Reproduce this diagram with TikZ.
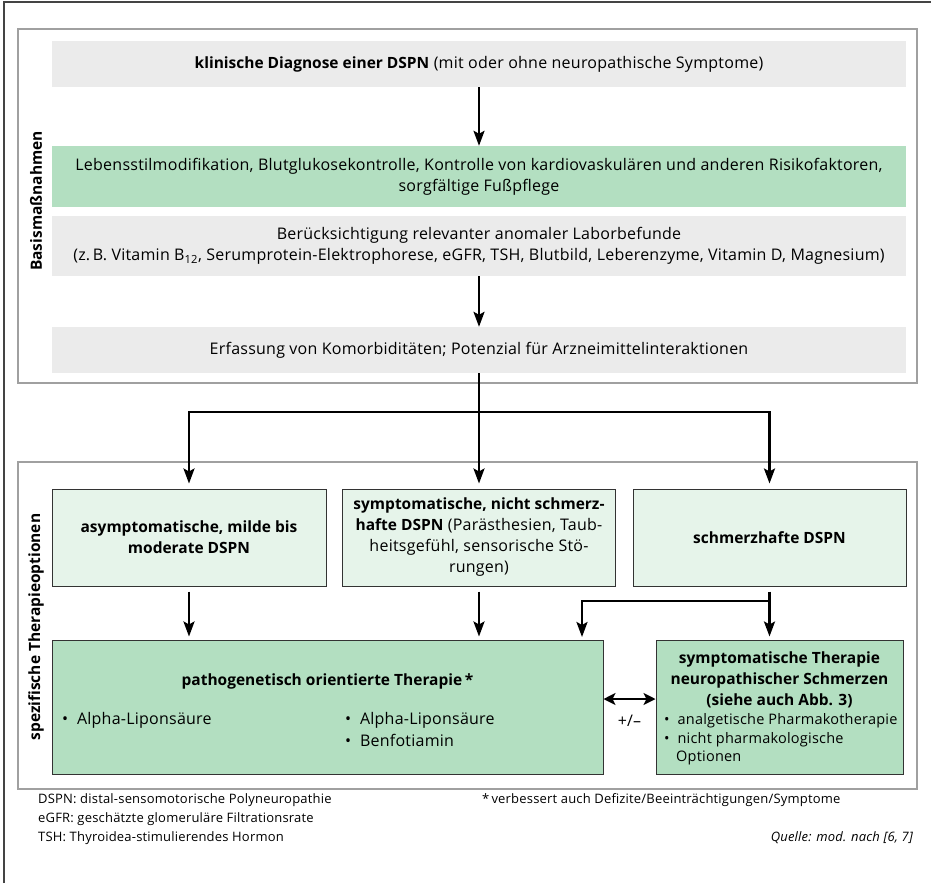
\documentclass[tikz,border=0pt]{standalone}
\usepackage{fontspec}
\setmainfont{Open Sans}[LetterSpace=1.5, BoldFeatures={LetterSpace=0}]
\usetikzlibrary{arrows.meta}
\definecolor{boxgray}{HTML}{EBEBEB}
\definecolor{boxgreen}{HTML}{B3DFC1}
\definecolor{boxlight}{HTML}{E6F4EA}
\definecolor{secgray}{HTML}{A0A0A0}
\definecolor{edgecol}{HTML}{333333}
\definecolor{framecol}{HTML}{444444}
\newcommand{\boldtxt}[1]{{\fontsize{15.5}{21}\selectfont\bfseries #1}}
\begin{document}
\begin{tikzpicture}[x=1pt,y=-1pt,
  mainfont/.style={font=\fontsize{16}{21}\selectfont},
  bar/.style={fill=boxgray, draw=none, minimum width=854pt, inner sep=0pt, align=center, mainfont},
  greenbar/.style={bar, fill=boxgreen},
  sec/.style={draw=secgray, line width=1.3pt, fill=none, inner sep=0pt},
  cbox/.style={draw=edgecol, line width=1pt, fill=boxlight, inner sep=0pt, minimum height=97pt, align=center, mainfont},
  gbox/.style={draw=edgecol, line width=1pt, fill=boxgreen, inner sep=0pt, minimum height=134pt},
  txt/.style={inner sep=0pt, mainfont},
  rtxt/.style={inner sep=0pt, font=\fontsize{14.5}{19}\selectfont},
  foot/.style={inner sep=0pt, font=\fontsize{13}{16}\selectfont},
  side/.style={inner sep=0pt, rotate=90, font=\fontsize{15.5}{18}\selectfont\bfseries},
  arr/.style={-{Stealth[length=15pt,width=11pt,inset=3pt]}, line width=2.4pt},
  plain/.style={line width=2.4pt}
]
\useasboundingbox (0,0) rectangle (931,883);
% outer frame
\draw[framecol, line width=1.5pt] (4,883) -- (4,2) -- (931,2);

% sections
\node[sec, minimum width=899pt, minimum height=354pt] (secA) at (467.5,206) {};
\node[sec, minimum width=899pt, minimum height=327pt] (secB) at (467.5,625.5) {};
\node[side] (labA) at (36,201) {Basismaßnahmen};
\node[side] (labB) at (36,627) {spezifische Therapieoptionen};

% upper bars
\node[bar, minimum height=46pt] (diag) at (479,64) {\boldtxt{klinische Diagnose einer DSPN} (mit oder ohne neuropathische Symptome)};
\node[greenbar, minimum height=61pt] (life) at (479,176.5) {Lebensstilmodifikation, Blutglukosekontrolle, Kontrolle von kardiovaskulären und anderen Risikofaktoren,\\ sorgfältige Fußpflege};
\node[bar, minimum height=60pt] (lab) at (479,246) {Berücksichtigung relevanter anomaler Laborbefunde\\ (z.\,B. Vitamin B\textsubscript{12}, Serumprotein-Elektrophorese, eGFR, TSH, Blutbild, Leberenzyme, Vitamin D, Magnesium)};
\node[bar, minimum height=46pt] (komorb) at (479,350) {Erfassung von Komorbiditäten; Potenzial für Arzneimittelinteraktionen};

\draw[arr] (diag.south) -- (life.north);
\draw[arr] (lab.south) -- (komorb.north);

% three boxes
\node[cbox, minimum width=274pt] (box1) at (189,537.5) {\boldtxt{asymptomatische, milde bis}\\ \boldtxt{moderate DSPN}};
\node[cbox, minimum width=273pt] (box2) at (479,537.5) {\boldtxt{symptomatische, nicht schmerz-}\\ \boldtxt{hafte DSPN} (Parästhesien, Taub-\\ heitsgefühl, sensorische Stö-\\ rungen)};
\node[cbox, minimum width=273pt] (box3) at (769.5,537.5) {\boldtxt{schmerzhafte DSPN}};

\coordinate (hub) at (479,412);
\draw[plain] (komorb.south) -- (hub);
\draw[arr, shorten >=5pt] (hub) -| (box1.north);
\draw[arr, shorten >=5pt] (hub) -- (box2.north);
\draw[arr, shorten >=5pt] (hub) -| (box3.north);

% lower boxes
\node[gbox, minimum width=551pt] (big) at (327.5,707) {};
\node[gbox, minimum width=247pt] (rbox) at (779.5,707) {};

\node[txt] (bigtitle) at (327.5,681) {\boldtxt{pathogenetisch orientierte Therapie\,*}};
\node[txt, anchor=west] (b1) at (62,720) {\textbullet\ \ Alpha-Liponsäure};
\node[txt, anchor=west] (b2) at (345,720) {\textbullet\ \ Alpha-Liponsäure};
\node[txt, anchor=west] (b3) at (345,740) {\textbullet\ \ Benfotiamin};

\node[txt, align=center, font=\fontsize{15.5}{21}\selectfont\bfseries] (rtitle) at (779.5,680) {symptomatische Therapie\\ neuropathischer Schmerzen\\ (siehe auch Abb. 3)};
\node[rtxt, anchor=west] (r1) at (664,721) {\textbullet\ \ analgetische Pharmakotherapie};
\node[rtxt, anchor=west] (r2) at (664,740) {\textbullet\ \ nicht pharmakologische};
\node[rtxt, anchor=west] (r3) at (676,758) {Optionen};

\draw[arr, shorten <=5pt, shorten >=3pt] (box1.south) -- (box1.south |- big.north);
\draw[arr, shorten <=5pt, shorten >=3pt] (box2.south) -- (box2.south |- big.north);
\draw[arr, shorten <=5pt, shorten >=3pt] (box3.south) -- (box3.south |- rbox.north);
\coordinate (branch) at (769.5,601);
\coordinate (bigin) at (582,640);
\draw[arr, shorten >=3pt] (branch) -| (bigin);

\draw[{Stealth[length=12pt,width=12pt,inset=3pt]}-{Stealth[length=12pt,width=12pt,inset=3pt]}, line width=2.4pt] (big.east |- 0,699) -- (rbox.west |- 0,699);
\node[txt] (pm) at (629.5,721) {+/–};

% footnotes
\node[foot, anchor=west] (f1) at (38,800) {DSPN: distal-sensomotorische Polyneuropathie};
\node[foot, anchor=west] (f2) at (38,819) {eGFR: geschätzte glomeruläre Filtrationsrate};
\node[foot, anchor=west] (f3) at (38,838) {TSH: Thyroidea-stimulierendes Hormon};
\node[foot, anchor=west] (f4) at (482,800) {*\,verbessert auch Defizite/Beeinträchtigungen/Symptome};
\node[foot, anchor=east, font=\fontsize{13}{16}\selectfont\itshape] (f5) at (913,838) {Quelle: mod. nach [6, 7]};
\end{tikzpicture}
\end{document}
